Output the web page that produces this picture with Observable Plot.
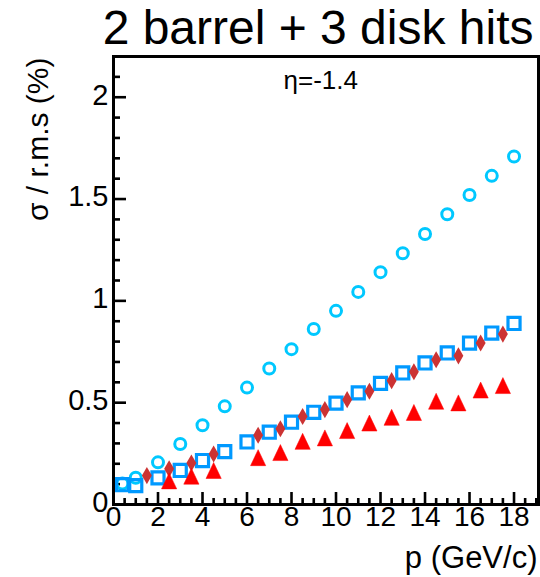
<!DOCTYPE html>
<html>
<head>
<meta charset="utf-8">
<script src="https://cdn.jsdelivr.net/npm/d3@7"></script>
<script src="https://cdn.jsdelivr.net/npm/@observablehq/plot@0.6"></script>
<style>
  html, body { margin: 0; padding: 0; background: #fff; }
  #chart svg { display: block; }
</style>
</head>
<body>
<div id="chart"></div>
<script>
// ---- data ----
const pCircle = [0.4, 1, 2, 3, 4, 5, 6, 7, 8, 9, 10, 11, 12, 13, 14, 15, 16, 17, 18];
const circleVals = [0.103, 0.131, 0.207, 0.297, 0.389, 0.482, 0.574, 0.668, 0.763, 0.862, 0.951, 1.044, 1.141, 1.234, 1.328, 1.425, 1.520, 1.614, 1.709];
const pSquare = [0.4, 1, 2, 3, 4, 5, 6, 7, 8, 9, 10, 11, 12, 13, 14, 15, 16, 17, 18];
const squareVals = [0.097, 0.093, 0.131, 0.167, 0.216, 0.260, 0.307, 0.355, 0.404, 0.453, 0.498, 0.548, 0.595, 0.646, 0.695, 0.744, 0.793, 0.842, 0.889];
const pDiamond = [1.5, 2.5, 3.5, 4.5, 6.5, 7.5, 8.5, 9.5, 10.5, 11.5, 12.5, 13.5, 14.5, 15.5, 16.5, 17.5];
const diamondVals = [0.142, 0.175, 0.204, 0.248, 0.340, 0.372, 0.432, 0.466, 0.515, 0.556, 0.608, 0.652, 0.711, 0.730, 0.793, 0.837];
const pTriangle = [2.5, 3.5, 4.5, 6.5, 7.5, 8.5, 9.5, 10.5, 11.5, 12.5, 13.5, 14.5, 15.5, 16.5, 17.5];
const triangleVals = [0.116, 0.139, 0.167, 0.230, 0.255, 0.310, 0.327, 0.363, 0.400, 0.428, 0.452, 0.507, 0.499, 0.562, 0.584];

const xTickLabels = [0, 2, 4, 6, 8, 10, 12, 14, 16, 18];
const yTickLabels = [0, 0.5, 1, 1.5, 2];
const xMinorTicks = d3.range(0, 19.01, 0.5).filter(v => v % 2 !== 0);
const yMinorTicks = d3.range(0, 22.01, 1).map(v => v / 10).filter(v => Math.round(v * 10) % 5 !== 0);

const titleText = "2 barrel + 3 disk hits";
const etaText = "η=-1.4";
const xLabel = "p (GeV/c)";
const yLabel = "σ / r.m.s (%)";

// ---- layout ----
const W = 540, H = 577, mL = 113, mR = 2, mT = 56, mB = 73;
const fw = W - mL - mR, fh = H - mT - mB;
const font = "'Liberation Sans', Arial, Helvetica, sans-serif";

const zip = (xs, ys) => xs.map((x, i) => ({x, y: ys[i]}));

const rootTriangle = {
  draw(ctx, size) {
    const r = Math.sqrt(size / Math.PI);
    ctx.moveTo(0, -r);
    ctx.lineTo(r * 0.95, r);
    ctx.lineTo(-r * 0.95, r);
    ctx.closePath();
  }
};

const chart = Plot.plot({
  width: W, height: H,
  marginLeft: mL, marginRight: mR, marginTop: mT, marginBottom: mB,
  style: {background: "#fff", fontFamily: font},
  x: {domain: [0, 19.1], axis: null},
  y: {domain: [0, 2.2], axis: null},
  marks: [
    // ticks (inside frame)
    Plot.tickX(xTickLabels, {x: d => d, insetTop: fh - 12, stroke: "black", strokeWidth: 2.6}),
    Plot.tickX(xMinorTicks, {x: d => d, insetTop: fh - 6, stroke: "black", strokeWidth: 2.6}),
    Plot.tickY(yTickLabels, {y: d => d, insetRight: fw - 13, stroke: "black", strokeWidth: 2.6}),
    Plot.tickY(yMinorTicks, {y: d => d, insetRight: fw - 7, stroke: "black", strokeWidth: 2.6}),
    // tick labels
    Plot.text(xTickLabels, {x: d => d, frameAnchor: "bottom", dy: 21, text: d => String(d), fontSize: 28, fill: "black"}),
    Plot.text(yTickLabels, {y: d => d, frameAnchor: "left", dx: -5, dy: -2, textAnchor: "end", text: d => String(d), fontSize: 29, fill: "black"}),
    // data
    Plot.dot(zip(pCircle, circleVals), {x: "x", y: "y", symbol: "circle", r: 5.5, stroke: "#00c8ff", strokeWidth: 3, fill: "none"}),
    Plot.dot(zip(pSquare, squareVals), {x: "x", y: "y", symbol: "square", r: 6.8, stroke: "#0099ff", strokeWidth: 3.2, fill: "none"}),
    Plot.dot(zip(pDiamond, diamondVals), {x: "x", y: "y", symbol: "diamond", r: 5.2, fill: "#cc3333", stroke: "none"}),
    Plot.dot(zip(pTriangle, triangleVals), {x: "x", y: "y", symbol: rootTriangle, r: 8, fill: "#ff0000", stroke: "#ff0000", strokeWidth: 0.5}),
    // frame
    Plot.frame({stroke: "black", strokeWidth: 3}),
    // texts
    Plot.text([titleText], {frameAnchor: "top-right", dx: -5, dy: -13, lineAnchor: "bottom", textAnchor: "end", text: d => d, fontSize: 48, fill: "black"}),
    Plot.text([etaText], {frameAnchor: "top-left", dx: 170, dy: 32, lineAnchor: "bottom", textAnchor: "start", text: d => d, fontSize: 26, fill: "black"}),
    Plot.text([xLabel], {frameAnchor: "bottom-right", dx: -1, dy: 63, lineAnchor: "bottom", textAnchor: "end", text: d => d, fontSize: 31, fill: "black"}),
    Plot.text([yLabel], {frameAnchor: "top-left", dx: -66, dy: 1, rotate: -90, lineAnchor: "bottom", textAnchor: "end", text: d => d, fontSize: 30, fill: "black"})
  ]
});
document.getElementById("chart").appendChild(chart);
</script>
</body>
</html>
